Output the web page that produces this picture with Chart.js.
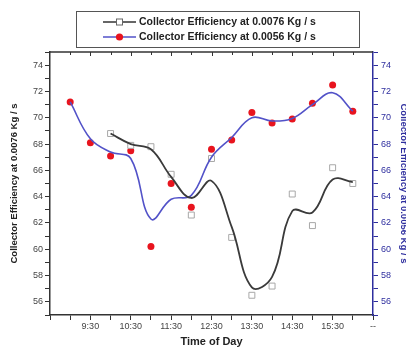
<!DOCTYPE html>
<html>
<head>
<meta charset="utf-8">
<script src="https://cdn.jsdelivr.net/npm/chart.js@4.4.1/dist/chart.umd.min.js"></script>
<style>
  html, body { margin: 0; padding: 0; background: #ffffff; }
  #wrap { width: 406px; height: 350px; position: relative; }
</style>
</head>
<body>
<div id="wrap"><canvas id="c" width="406" height="350"></canvas></div>
<script>
// ---- data (hours of day, efficiency %) ----
const pointHoursLow = [9, 9.5, 10, 10.5, 11, 11.5, 12, 12.5, 13, 13.5, 14, 14.5, 15, 15.5, 16];
const effLow = [71.2, 68.1, 67.1, 67.5, 60.2, 65.0, 63.2, 67.6, 68.3, 70.4, 69.6, 69.9, 71.1, 72.5, 70.5];
const pointHoursHigh = [10, 10.5, 11, 11.5, 12, 12.5, 13, 13.5, 14, 14.5, 15, 15.5, 16];
const effHigh = [68.8, 67.9, 67.8, 65.7, 62.6, 66.9, 60.9, 56.5, 57.2, 64.2, 61.8, 66.2, 65.0];
// smoothed fit curves
const fitLow = [71.2, 68.4, 67.4, 66.9, 62.3, 63.8, 64.1, 67.0, 68.5, 70.0, 69.75, 69.95, 71.0, 71.9, 70.5];
const fitHigh = [68.8, 68.0, 67.6, 65.5, 63.9, 65.2, 61.7, 57.1, 57.9, 62.9, 62.8, 65.3, 65.1];
// tick labels
const xTickHours = [9.5, 10.5, 11.5, 12.5, 13.5, 14.5, 15.5, 16.5];
const xTickLabels = ['9:30', '10:30', '11:30', '12:30', '13:30', '14:30', '15:30', '--'];
const yTickValues = [56, 58, 60, 62, 64, 66, 68, 70, 72, 74];
const seriesNames = ['Collector Efficiency at 0.0076 Kg / s', 'Collector Efficiency at 0.0056 Kg / s'];

const toXY = (xs, ys) => xs.map((x, i) => ({ x: x, y: ys[i] }));

const BLUE_LINE = '#5252c8';
const BLUE_AXIS = '#2e2e9e';
const RED = '#e8141e';
const DARK = '#333333';
const GRAY_SQ = '#a8a8a8';
const FONT = "'Liberation Sans', Arial, sans-serif";

const yTickCb = v => yTickValues.includes(v) ? String(v) : '';
const xTickCb = v => {
  const i = xTickHours.findIndex(h => Math.abs(h - v) < 1e-6);
  return i >= 0 ? xTickLabels[i] : '';
};

const frameLegendPlugin = {
  id: 'frameLegend',
  afterDraw(chart) {
    const ctx = chart.ctx;
    const ca = chart.chartArea;
    const xs = chart.scales.x;
    ctx.save();
    // top frame with inward ticks
    ctx.strokeStyle = DARK;
    ctx.lineWidth = 1.5;
    ctx.beginPath();
    ctx.moveTo(ca.left, ca.top);
    ctx.lineTo(ca.right, ca.top);
    ctx.stroke();
    ctx.lineWidth = 1;
    for (let h = 9; h <= 16.01; h += 0.5) {
      const px = Math.round(xs.getPixelForValue(h)) + 0.5;
      const len = (Math.abs((h % 1) - 0.5) < 1e-6) ? 4 : 3;
      ctx.beginPath();
      ctx.moveTo(px, ca.top);
      ctx.lineTo(px, ca.top + len);
      ctx.stroke();
    }
    // legend box
    ctx.fillStyle = '#ffffff';
    ctx.fillRect(76.5, 11.5, 283, 36);
    ctx.strokeStyle = '#555555';
    ctx.lineWidth = 1;
    ctx.strokeRect(76.5, 11.5, 283, 36);
    const rows = [
      { y: 22, color: DARK, marker: 'sq' },
      { y: 37, color: BLUE_LINE, marker: 'dot' }
    ];
    rows.forEach((r, i) => {
      ctx.strokeStyle = r.color;
      ctx.lineWidth = 1.6;
      ctx.beginPath();
      ctx.moveTo(103, r.y);
      ctx.lineTo(136, r.y);
      ctx.stroke();
      if (r.marker === 'sq') {
        ctx.fillStyle = '#ffffff';
        ctx.fillRect(116.5, r.y - 3, 6, 6);
        ctx.strokeStyle = '#666666';
        ctx.lineWidth = 1;
        ctx.strokeRect(116.5, r.y - 3, 6, 6);
      } else {
        ctx.fillStyle = RED;
        ctx.beginPath();
        ctx.arc(119.5, r.y, 3.6, 0, Math.PI * 2);
        ctx.fill();
      }
      ctx.fillStyle = '#222222';
      ctx.font = 'bold 10.5px ' + FONT;
      ctx.textAlign = 'left';
      ctx.textBaseline = 'middle';
      ctx.fillText(seriesNames[i], 139, r.y + 0.5, 193);
    });
    ctx.restore();
  }
};

new Chart(document.getElementById('c'), {
  type: 'line',
  data: {
    datasets: [
      { label: 'fitHigh', data: toXY(pointHoursHigh, fitHigh), borderColor: '#3a3a3a', borderWidth: 1.8,
        pointRadius: 0, tension: 0.4, yAxisID: 'y', fill: false },
      { label: 'fitLow', data: toXY(pointHoursLow, fitLow), borderColor: BLUE_LINE, borderWidth: 1.6,
        pointRadius: 0, tension: 0.4, yAxisID: 'y2', fill: false },
      { label: seriesNames[0], data: toXY(pointHoursHigh, effHigh), showLine: false,
        pointStyle: 'rect', pointRadius: 4.2, pointBackgroundColor: '#ffffff',
        pointBorderColor: GRAY_SQ, pointBorderWidth: 1, yAxisID: 'y' },
      { label: seriesNames[1], data: toXY(pointHoursLow, effLow), showLine: false,
        pointStyle: 'circle', pointRadius: 3.5, pointBackgroundColor: RED,
        pointBorderColor: RED, pointBorderWidth: 0, yAxisID: 'y2' }
    ]
  },
  options: {
    responsive: false,
    animation: false,
    devicePixelRatio: 1,
    layout: { padding: { top: 52, left: 0, right: 0, bottom: 0 } },
    plugins: { legend: { display: false }, title: { display: false }, tooltip: { enabled: false } },
    scales: {
      x: {
        type: 'linear', position: 'bottom', min: 8.5, max: 16.5,
        afterFit: s => { s.height = 35; },
        border: { display: true, color: DARK, width: 1.5 },
        grid: { drawOnChartArea: false, drawTicks: true, tickLength: 5, color: DARK, tickColor: DARK },
        ticks: { stepSize: 0.5, autoSkip: false, maxRotation: 0, padding: 1, color: '#444',
                 font: { family: FONT, size: 9 }, callback: xTickCb },
        title: { display: true, text: 'Time of Day', color: '#222',
                 font: { family: FONT, size: 11, weight: 'bold' }, padding: { top: 0, bottom: 1 } }
      },
      y: {
        type: 'linear', position: 'left', min: 55, max: 75,
        afterFit: s => { s.width = 50; },
        border: { display: true, color: DARK, width: 1.5 },
        grid: { drawOnChartArea: false, drawTicks: true, tickLength: 5, color: DARK, tickColor: DARK },
        ticks: { stepSize: 1, autoSkip: false, padding: 2, color: '#444',
                 font: { family: FONT, size: 9 }, callback: yTickCb },
        title: { display: true, text: seriesNames[0], color: '#222',
                 font: { family: FONT, size: 9.5, weight: 'bold' }, padding: { top: 9, bottom: 0 } }
      },
      y2: {
        type: 'linear', position: 'right', min: 55, max: 75,
        afterFit: s => { s.width = 33; },
        border: { display: true, color: BLUE_AXIS, width: 1.5 },
        grid: { drawOnChartArea: false, drawTicks: true, tickLength: 5, color: BLUE_AXIS, tickColor: BLUE_AXIS },
        ticks: { stepSize: 1, autoSkip: false, padding: 3, color: BLUE_AXIS,
                 font: { family: FONT, size: 9 }, callback: yTickCb },
        title: { display: true, text: seriesNames[1], color: BLUE_AXIS,
                 font: { family: FONT, size: 9.5, weight: 'bold' }, padding: { top: -3, bottom: 0 } }
      }
    }
  },
  plugins: [frameLegendPlugin]
});
</script>
</body>
</html>
